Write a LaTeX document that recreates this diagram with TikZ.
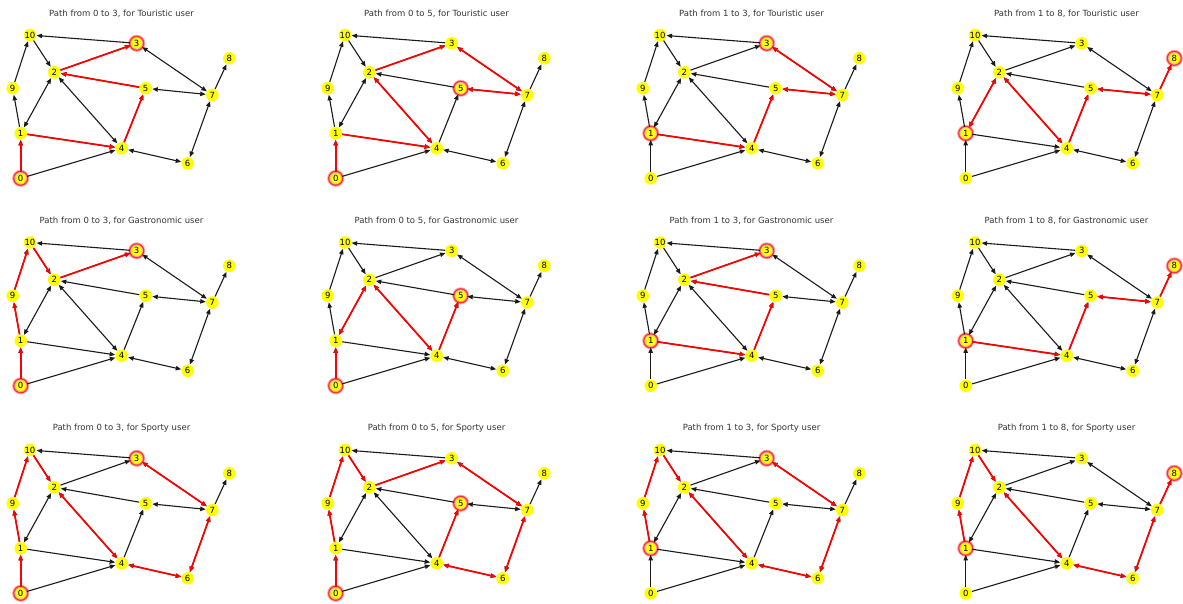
\documentclass[tikz,border=0pt]{standalone}
\usepackage{fontspec}
\setmainfont{DejaVu Sans}
\usetikzlibrary{arrows.meta}
\definecolor{nodeyellow}{HTML}{FFFF00}
\definecolor{pathred}{HTML}{FF0000}
\definecolor{titlegray}{HTML}{333333}
\definecolor{edgegray}{HTML}{1A1A1A}

% #1 column, #2 row, #3 source, #4 target, #5 user, #6 red edges a/b/(1 one-way, 2 two-way)
\newcommand{\pathpanel}[6]{%
  \begin{scope}[shift={(315*#1,207.5*#2)}, name prefix=p#1#2-]
    \node[title] (title) at (121.5,13.3) {Path from #3 to #4, for #5 user};
    \foreach \n/\px/\py in {0/20.7/178.3, 1/20.7/133.3, 2/54.3/72.3, 3/136.7/43.3,
        4/121.7/148.3, 5/145.7/88.3, 6/187.7/163.3, 7/212.3/95, 8/229.3/58.3,
        9/12.7/88.3, 10/30/35}
      \node[vertex] (\n) at (\px,\py) {\n};
    \foreach \h in {#3,#4}
      \draw[ring] (\h) circle (7pt);
    \foreach \a/\b in {0/1, 0/4, 1/9, 9/10, 10/2, 3/10, 1/4, 2/3, 5/2, 4/5, 7/8}
      \draw[oneway] (\a) -- (\b);
    \foreach \a/\b in {1/2, 2/4, 4/6, 3/7, 5/7, 6/7}
      \draw[twoway] (\a) -- (\b);
    \foreach \a/\b/\t in {#6} {
      \ifnum\t=2 \draw[twoway, redpath] (\a) -- (\b);
      \else \draw[oneway, redpath] (\a) -- (\b); \fi
    }
  \end{scope}}

\begin{document}
\begin{tikzpicture}[
    x=1pt,
    y=-1pt,
    title/.style={font=\fontsize{8.5}{10}\selectfont, text=titlegray, inner sep=0pt},
    vertex/.style={circle, fill=nodeyellow, minimum size=12.6pt, inner sep=0pt, outer sep=0.3pt, font=\fontsize{8.5}{10}\selectfont},
    ring/.style={draw=pathred!80, line width=1.2pt, preaction={draw=pathred!35, line width=3pt}},
    oneway/.style={-{Triangle[length=5.5pt,width=4.4pt]}, line width=1.1pt, draw=edgegray},
    twoway/.style={{Triangle[length=5.5pt,width=4.4pt]}-{Triangle[length=5.5pt,width=4.4pt]}, line width=1.1pt, draw=edgegray},
    redpath/.style={draw=pathred, line width=1.7pt}
  ]
    \useasboundingbox (0,0) rectangle (1183,603);

    \pathpanel{0}{0}{0}{3}{Touristic}{0/1/1, 1/4/1, 4/5/1, 5/2/1, 2/3/1}
    \pathpanel{1}{0}{0}{5}{Touristic}{0/1/1, 1/4/1, 4/2/2, 2/3/1, 3/7/2, 7/5/2}
    \pathpanel{2}{0}{1}{3}{Touristic}{1/4/1, 4/5/1, 5/7/2, 7/3/2}
    \pathpanel{3}{0}{1}{8}{Touristic}{1/2/2, 2/4/2, 4/5/1, 5/7/2, 7/8/1}

    \pathpanel{0}{1}{0}{3}{Gastronomic}{0/1/1, 1/9/1, 9/10/1, 10/2/1, 2/3/1}
    \pathpanel{1}{1}{0}{5}{Gastronomic}{0/1/1, 1/2/2, 2/4/2, 4/5/1}
    \pathpanel{2}{1}{1}{3}{Gastronomic}{1/4/1, 4/5/1, 5/2/1, 2/3/1}
    \pathpanel{3}{1}{1}{8}{Gastronomic}{1/4/1, 4/5/1, 5/7/2, 7/8/1}

    \pathpanel{0}{2}{0}{3}{Sporty}{0/1/1, 1/9/1, 9/10/1, 10/2/1, 2/4/2, 4/6/2, 6/7/2, 7/3/2}
    \pathpanel{1}{2}{0}{5}{Sporty}{0/1/1, 1/9/1, 9/10/1, 10/2/1, 2/3/1, 3/7/2, 7/6/2, 6/4/2, 4/5/1}
    \pathpanel{2}{2}{1}{3}{Sporty}{1/9/1, 9/10/1, 10/2/1, 2/4/2, 4/6/2, 6/7/2, 7/3/2}
    \pathpanel{3}{2}{1}{8}{Sporty}{1/9/1, 9/10/1, 10/2/1, 2/4/2, 4/6/2, 6/7/2, 7/8/1}
\end{tikzpicture}
\end{document}
